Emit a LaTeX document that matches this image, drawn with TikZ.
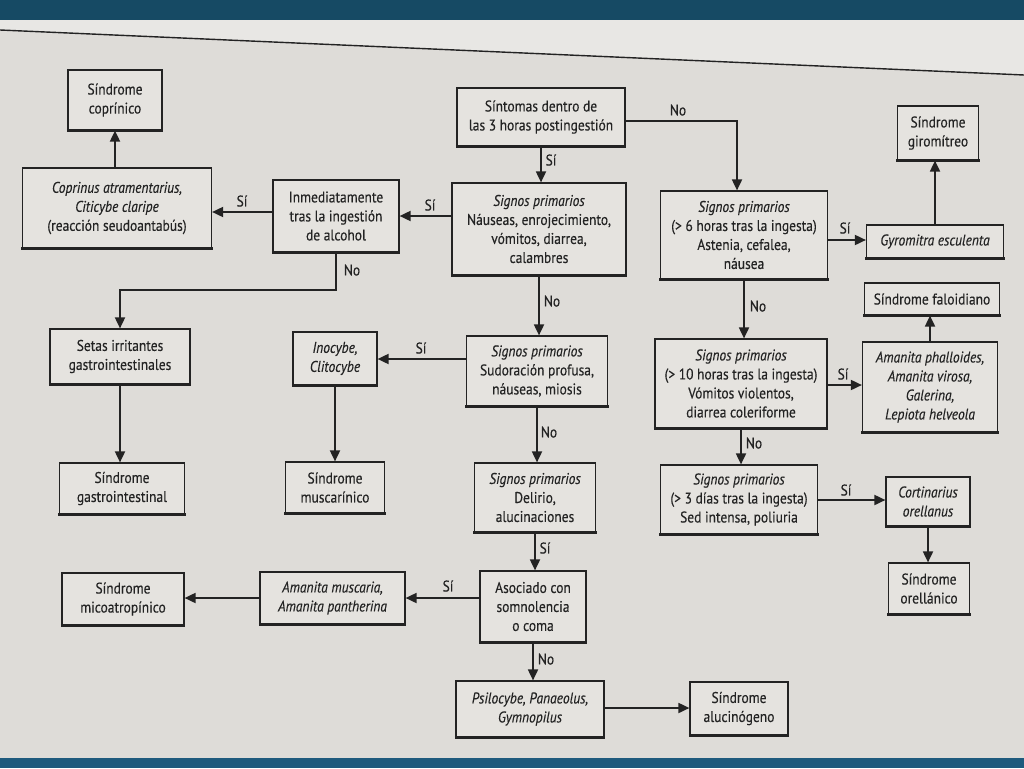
\documentclass[tikz,border=0pt]{standalone}
\usepackage{fontspec}
\setmainfont{PT Sans}[FakeStretch=0.87,FakeBold=0.25]
\usetikzlibrary{arrows.meta}
\definecolor{pagebg}{RGB}{222,220,216}
\definecolor{pagetop}{RGB}{232,231,228}
\definecolor{boxfill}{RGB}{229,227,223}
\definecolor{ink}{RGB}{35,35,35}
\definecolor{bandtop}{RGB}{22,74,100}
\definecolor{bandbot}{RGB}{30,90,125}
\tikzset{
  fbox/.style={draw=ink, line width=1.2pt, fill=boxfill, align=center, inner sep=2pt,
    text=ink, font=\fontsize{15.5}{19}\selectfont},
  arr/.style={draw=ink, line width=1.8pt, -{Triangle[length=11pt,width=10pt]}},
  lbl/.style={text=ink, font=\fontsize{15.5}{16}\selectfont, inner sep=0pt}
}
\begin{document}
\begin{tikzpicture}[x=1pt,y=-1pt]
\useasboundingbox (0,0) rectangle (1024,768);
\fill[pagebg] (0,0) rectangle (1024,768);
\fill[pagetop] (0,20) -- (1024,20) -- (1024,75) -- (0,30) -- cycle;
\draw[ink, line width=1.4pt] (0,30) -- (1024,75);
\fill[bandtop] (0,0) rectangle (1024,20);
\fill[bandbot] (0,758) rectangle (1024,768);

% nodes
\node[fbox, minimum width=94pt, minimum height=60pt] (copr) at (115,100) {Síndrome\\coprínico};
\node[fbox, minimum width=189pt, minimum height=80pt] (coprin) at (117,208) {\itshape Coprinus atramentarius,\\\itshape Citicybe claripe\\(reacción seudoantabús)};
\node[fbox, minimum width=126pt, minimum height=72pt] (alc) at (336,216) {Inmediatamente\\tras la ingestión\\de alcohol};
\node[fbox, minimum width=168pt, minimum height=58pt] (sint) at (541,117) {Síntomas dentro de\\las 3 horas postingestión};
\node[fbox, minimum width=174pt, minimum height=92pt] (sig1) at (539,229) {\itshape Signos primarios\\Náuseas, enrojecimiento,\\vómitos, diarrea,\\calambres};
\node[fbox, minimum width=167pt, minimum height=88pt] (sig6) at (744,235) {\itshape Signos primarios\\(> 6 horas tras la ingesta)\\Astenia, cefalea,\\náusea};
\node[fbox, minimum width=81pt, minimum height=54pt] (girom) at (938,133) {Síndrome\\giromítreo};
\node[fbox, minimum width=137pt, minimum height=33pt] (gyro) at (935,241.5) {\itshape Gyromitra esculenta};
\node[fbox, minimum width=135pt, minimum height=32pt] (falo) at (932,299) {Síndrome faloidiano};
\node[fbox, minimum width=172pt, minimum height=89pt] (sig10) at (741,383.5) {\itshape Signos primarios\\(> 10 horas tras la ingesta)\\Vómitos violentos,\\diarrea coleriforme};
\node[fbox, minimum width=135pt, minimum height=90pt] (amph) at (930,387) {\itshape Amanita phalloides,\\\itshape Amanita virosa,\\\itshape Galerina,\\\itshape Lepiota helveola};
\node[fbox, minimum width=157pt, minimum height=69pt] (sig3) at (739,499.5) {\itshape Signos primarios\\(> 3 días tras la ingesta)\\Sed intensa, poliuria};
\node[fbox, minimum width=84pt, minimum height=49pt] (cort) at (928,501.5) {\itshape Cortinarius\\\itshape orellanus};
\node[fbox, minimum width=81pt, minimum height=51pt] (orel) at (929,588.5) {Síndrome\\orellánico};
\node[fbox, minimum width=140pt, minimum height=55pt] (setas) at (120,356.5) {Setas irritantes\\gastrointestinales};
\node[fbox, minimum width=125pt, minimum height=51pt] (gastro) at (122,488.5) {Síndrome\\gastrointestinal};
\node[fbox, minimum width=84pt, minimum height=53pt] (inoc) at (335,358.5) {\itshape Inocybe,\\\itshape Clitocybe};
\node[fbox, minimum width=99pt, minimum height=51pt] (musc) at (335,487.5) {Síndrome\\muscarínico};
\node[fbox, minimum width=141pt, minimum height=70pt] (sudo) at (537,371) {\itshape Signos primarios\\Sudoración profusa,\\náuseas, miosis};
\node[fbox, minimum width=121pt, minimum height=69pt] (deli) at (535,497.5) {\itshape Signos primarios\\Delirio,\\alucinaciones};
\node[fbox, minimum width=106pt, minimum height=71pt] (asoc) at (533,606.5) {Asociado con\\somnolencia\\o coma};
\node[fbox, minimum width=145pt, minimum height=52pt] (amus) at (332.5,598) {\itshape Amanita muscaria,\\\itshape Amanita pantherina};
\node[fbox, minimum width=122pt, minimum height=52pt] (mico) at (123,599) {Síndrome\\micoatropínico};
\node[fbox, minimum width=148pt, minimum height=56pt] (psil) at (530,709) {\itshape Psilocybe, Panaeolus,\\\itshape Gymnopilus};
\node[fbox, minimum width=98pt, minimum height=53pt] (aluc) at (739,708.5) {Síndrome\\alucinógeno};

% thick bottom edges
\foreach \n in {copr,coprin,alc,sint,sig1,sig6,girom,gyro,falo,sig10,amph,sig3,cort,orel,setas,gastro,inoc,musc,sudo,deli,asoc,amus,mico,psil,aluc}
  \draw[ink, line width=3pt] ([xshift=-0.5pt]\n.south west) -- ([xshift=0.5pt]\n.south east);

% connectors
\draw[arr] (sint.south) -- (sint.south |- sig1.north);
\draw[arr] (sint.east |- 0,121) -| ([xshift=-7pt]sig6.north);
\draw[arr] (sig1.west |- 0,216) -- (alc.east |- 0,216);
\draw[arr] (alc.west |- 0,212) -- (coprin.east |- 0,212);
\draw[arr] (coprin.north -| copr.south) -- (copr.south);
\draw[arr] (alc.south) -- (alc.south |- 0,290) -| (setas.north);
\draw[arr] (sig1.south) -- (sig1.south |- sudo.north);
\draw[arr] (sudo.west |- 0,359) -- (inoc.east |- 0,359);
\draw[arr] (inoc.south) -- (inoc.south |- musc.north);
\draw[arr] (setas.south) -- (setas.south |- gastro.north);
\draw[arr] (sudo.south) -- (sudo.south |- deli.north);
\draw[arr] (deli.south) -- (deli.south |- asoc.north);
\draw[arr] (asoc.west |- 0,598) -- (amus.east |- 0,598);
\draw[arr] (amus.west |- 0,598) -- (mico.east |- 0,598);
\draw[arr] (asoc.south) -- (asoc.south |- psil.north);
\draw[arr] (psil.east |- 0,708) -- (aluc.west |- 0,708);
\draw[arr] (sig6.east |- 0,240) -- (gyro.west |- 0,240);
\draw[arr] (gyro.north) -- (gyro.north |- girom.south);
\draw[arr] (sig6.south) -- (sig6.south |- sig10.north);
\draw[arr] (sig10.east |- 0,385) -- (amph.west |- 0,385);
\draw[arr] (amph.north) -- (amph.north |- falo.south);
\draw[arr] (sig10.south) -- (sig10.south |- sig3.north);
\draw[arr] (sig3.east |- 0,500) -- (cort.west |- 0,500);
\draw[arr] (cort.south) -- (cort.south |- orel.north);

% labels
\node[lbl] (l1) at (551,160) {Sí};
\node[lbl] (l2) at (678,110) {No};
\node[lbl] (l3) at (430,205) {Sí};
\node[lbl] (l4) at (242,201) {Sí};
\node[lbl] (l5) at (352,270) {No};
\node[lbl] (l6) at (552,301) {No};
\node[lbl] (l7) at (421,348) {Sí};
\node[lbl] (l8) at (549,432) {No};
\node[lbl] (l9) at (545,548) {Sí};
\node[lbl] (l10) at (448,586) {Sí};
\node[lbl] (l11) at (546,659) {No};
\node[lbl] (l12) at (845,228) {Sí};
\node[lbl] (l13) at (758,306) {No};
\node[lbl] (l14) at (843,374) {Sí};
\node[lbl] (l15) at (754,443) {No};
\node[lbl] (l16) at (846,490) {Sí};
\end{tikzpicture}
\end{document}
